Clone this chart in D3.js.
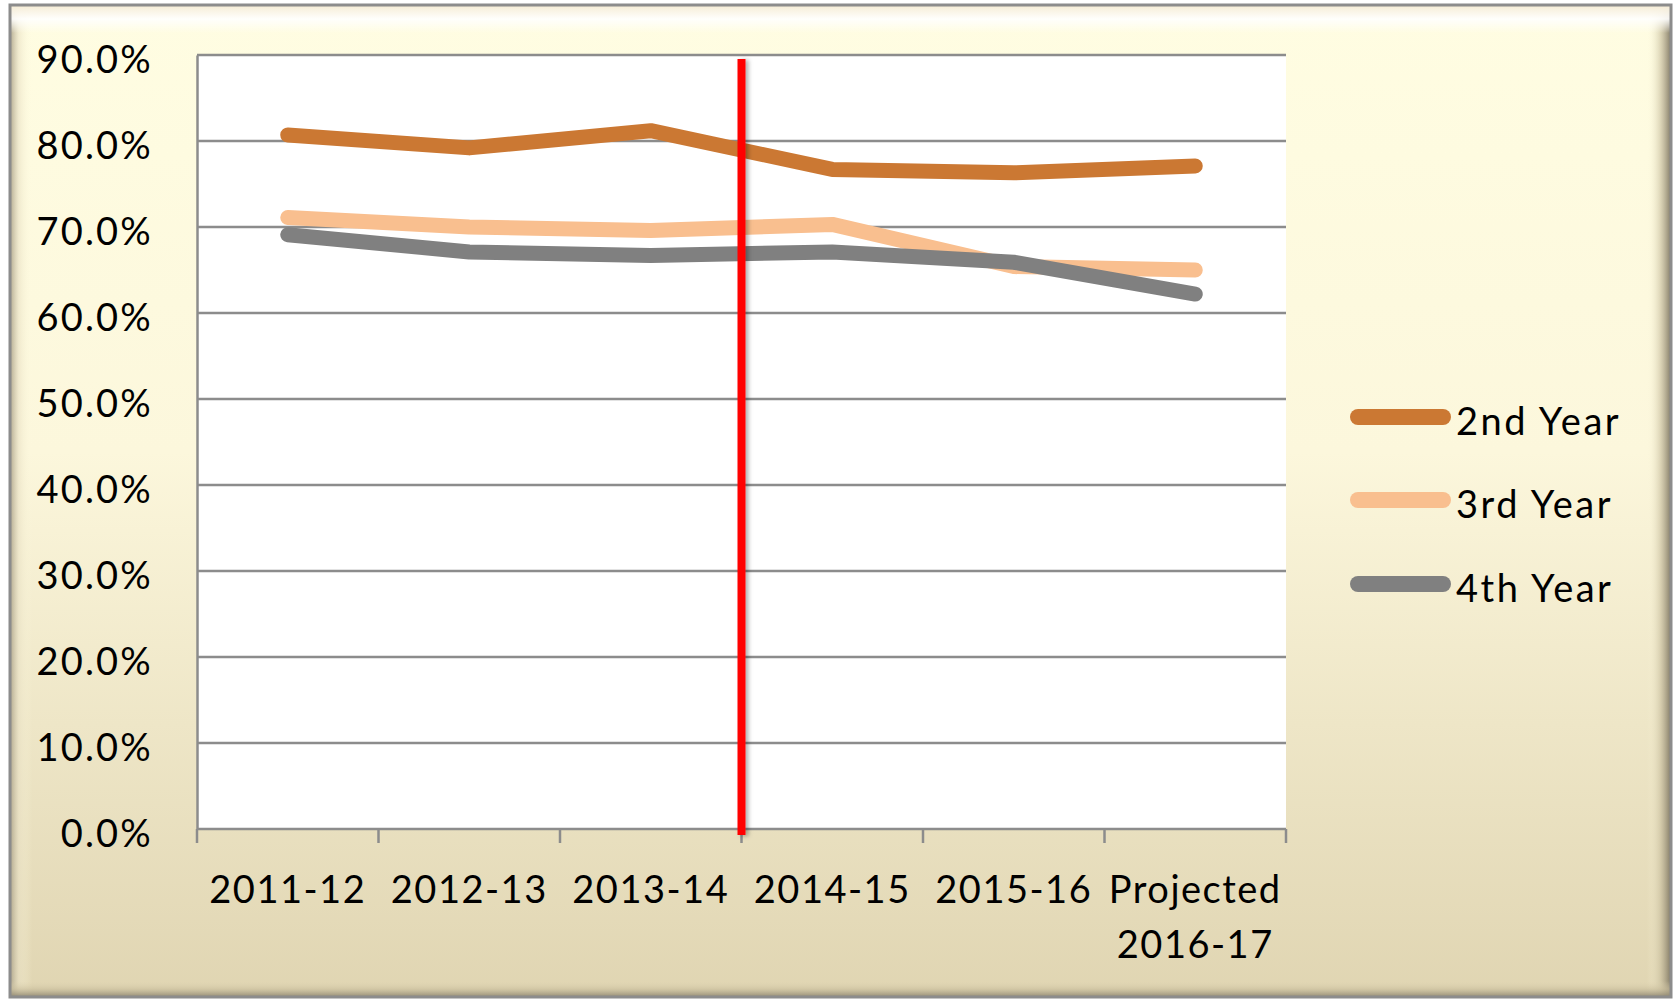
<!DOCTYPE html>
<html>
<head>
<meta charset="utf-8">
<script src="https://cdn.jsdelivr.net/npm/d3@7"></script>
<style>
  html, body { margin: 0; padding: 0; background: #ffffff; }
  svg { display: block; }
  text { font-family: Lato, "Open Sans", sans-serif; fill: #000; }
</style>
</head>
<body>
<svg id="chart" width="1680" height="1002"></svg>
<script>
// ---- data ----
const categories = ["2011-12", "2012-13", "2013-14", "2014-15", "2015-16", "Projected 2016-17"];
const categoryLines = [["2011-12"], ["2012-13"], ["2013-14"], ["2014-15"], ["2015-16"], ["Projected", "2016-17"]];
const seriesNames = ["2nd Year", "3rd Year", "4th Year"];
const secondYear = [0.807, 0.792, 0.812, 0.767, 0.763, 0.771];
const thirdYear  = [0.711, 0.700, 0.696, 0.703, 0.654, 0.650];
const fourthYear = [0.691, 0.671, 0.667, 0.671, 0.659, 0.622];
const seriesColors = ["#cb7833", "#f9bf8f", "#808080"];
const yTicks = [0, 0.1, 0.2, 0.3, 0.4, 0.5, 0.6, 0.7, 0.8, 0.9];
const dividerBefore = "2014-15";

const seriesValues = [secondYear, thirdYear, fourthYear];

const svg = d3.select("#chart");
const defs = svg.append("defs");

// background gradient
const bg = defs.append("linearGradient").attr("id", "bgGrad")
  .attr("x1", 0).attr("y1", 0).attr("x2", 0).attr("y2", 1);
bg.append("stop").attr("offset", "0%").attr("stop-color", "#fffde2");
bg.append("stop").attr("offset", "45%").attr("stop-color", "#fcf7dc");
bg.append("stop").attr("offset", "100%").attr("stop-color", "#e0d5b2");

const leftBev = defs.append("linearGradient").attr("id", "leftBev")
  .attr("x1", 0).attr("y1", 0).attr("x2", 1).attr("y2", 0);
leftBev.append("stop").attr("offset", "0%").attr("stop-color", "#a89f86").attr("stop-opacity", 0.9);
leftBev.append("stop").attr("offset", "40%").attr("stop-color", "#e8e0c4").attr("stop-opacity", 0.6);
leftBev.append("stop").attr("offset", "100%").attr("stop-color", "#fffbe0").attr("stop-opacity", 0);

const rightBev = defs.append("linearGradient").attr("id", "rightBev")
  .attr("x1", 1).attr("y1", 0).attr("x2", 0).attr("y2", 0);
rightBev.append("stop").attr("offset", "0%").attr("stop-color", "#7c7460").attr("stop-opacity", 0.95);
rightBev.append("stop").attr("offset", "45%").attr("stop-color", "#c9bf9f").attr("stop-opacity", 0.6);
rightBev.append("stop").attr("offset", "100%").attr("stop-color", "#fffbe0").attr("stop-opacity", 0);

const topBev = defs.append("linearGradient").attr("id", "topBev")
  .attr("x1", 0).attr("y1", 0).attr("x2", 0).attr("y2", 1);
topBev.append("stop").attr("offset", "0%").attr("stop-color", "#f5ebd3").attr("stop-opacity", 1);
topBev.append("stop").attr("offset", "50%").attr("stop-color", "#ffffff").attr("stop-opacity", 0.9);
topBev.append("stop").attr("offset", "100%").attr("stop-color", "#ffffff").attr("stop-opacity", 0);

const botBev = defs.append("linearGradient").attr("id", "botBev")
  .attr("x1", 0).attr("y1", 1).attr("x2", 0).attr("y2", 0);
botBev.append("stop").attr("offset", "0%").attr("stop-color", "#8a826d").attr("stop-opacity", 0.9);
botBev.append("stop").attr("offset", "50%").attr("stop-color", "#c8bd9c").attr("stop-opacity", 0.6);
botBev.append("stop").attr("offset", "100%").attr("stop-color", "#e0d5b2").attr("stop-opacity", 0);

const shadow = defs.append("filter").attr("id", "redShadow")
  .attr("filterUnits", "userSpaceOnUse")
  .attr("x", 700).attr("y", 40).attr("width", 90).attr("height", 820);
shadow.append("feDropShadow").attr("dx", 3).attr("dy", 1).attr("stdDeviation", 2)
  .attr("flood-color", "#000").attr("flood-opacity", 0.3);

// frame
const fx0 = 10, fy0 = 5, fx1 = 1671, fy1 = 997;
svg.append("rect").attr("x", fx0).attr("y", fy0).attr("width", fx1 - fx0).attr("height", fy1 - fy0)
  .attr("fill", "url(#bgGrad)");
svg.append("rect").attr("x", fx0).attr("y", fy0).attr("width", 22).attr("height", fy1 - fy0)
  .attr("fill", "url(#leftBev)");
svg.append("rect").attr("x", fx1 - 24).attr("y", fy0).attr("width", 24).attr("height", fy1 - fy0)
  .attr("fill", "url(#rightBev)");
svg.append("rect").attr("x", fx0).attr("y", fy0).attr("width", fx1 - fx0).attr("height", 28)
  .attr("fill", "url(#topBev)");
svg.append("rect").attr("x", fx0).attr("y", fy1 - 16).attr("width", fx1 - fx0).attr("height", 16)
  .attr("fill", "url(#botBev)");
svg.append("rect").attr("x", fx0).attr("y", fy0).attr("width", fx1 - fx0).attr("height", fy1 - fy0)
  .attr("fill", "none").attr("stroke", "#8c8c8c").attr("stroke-width", 3);

// plot area
const pl = 197, pr = 1286, pt = 55, pb = 829;
const x = d3.scaleBand().domain(categories).range([pl, pr]).paddingInner(0).paddingOuter(0);
const y = d3.scaleLinear().domain([0, 0.9]).range([pb, pt]);
const cx = c => x(c) + x.bandwidth() / 2;

svg.append("rect").attr("x", pl).attr("y", pt).attr("width", pr - pl).attr("height", pb - pt)
  .attr("fill", "#ffffff");

// gridlines
svg.append("g").selectAll("line").data(yTicks.filter(t => t > 0)).join("line")
  .attr("x1", pl).attr("x2", pr)
  .attr("y1", d => y(d)).attr("y2", d => y(d))
  .attr("stroke", "#8c8c8c").attr("stroke-width", 2.5);

// y axis
const yAxis = d3.axisLeft(y).tickValues(yTicks).tickSize(0).tickPadding(0)
  .tickFormat(d3.format(".1%"));
const yg = svg.append("g").attr("transform", `translate(${pl},0)`).call(yAxis);
yg.select(".domain").attr("stroke", "#8c8c8c").attr("stroke-width", 2.5);
yg.selectAll("text")
  .attr("x", -44).attr("dy", null)
  .attr("dominant-baseline", "central")
  .attr("transform", "translate(0,2)")
  .style("font-size", "38px").style("letter-spacing", "2.2px")
  .attr("fill", "#000");

// x axis
const xTickPos = categories.map(c => x(c)).concat([pr]);
const xg = svg.append("g");
xg.append("line").attr("x1", pl).attr("x2", pr).attr("y1", pb).attr("y2", pb)
  .attr("stroke", "#8c8c8c").attr("stroke-width", 2.5);
xg.selectAll("line.tick").data(xTickPos).join("line").attr("class", "tick")
  .attr("x1", d => d).attr("x2", d => d).attr("y1", pb).attr("y2", pb + 14)
  .attr("stroke", "#8c8c8c").attr("stroke-width", 2.5);
const xl = xg.selectAll("text.xl").data(categories).join("text").attr("class", "xl")
  .attr("x", d => cx(d)).attr("y", 903)
  .attr("text-anchor", "middle")
  .style("font-size", "38px").style("letter-spacing", "1.5px");
xl.each(function(d, i) {
  const t = d3.select(this);
  categoryLines[i].forEach((ln, j) => {
    t.append("tspan").attr("x", cx(d)).attr("dy", j === 0 ? 0 : 55).text(ln);
  });
});

// lines
const line = d3.line().x((d, i) => cx(categories[i])).y(d => y(d));
svg.append("g").selectAll("path").data(seriesValues).join("path")
  .attr("d", d => line(d))
  .attr("fill", "none")
  .attr("stroke", (d, i) => seriesColors[i])
  .attr("stroke-width", 15)
  .attr("stroke-linecap", "round")
  .attr("stroke-linejoin", "round");

// divider
const dx = x(dividerBefore);
svg.append("rect").attr("x", dx - 4).attr("width", 8)
  .attr("y", pt + 4).attr("height", pb + 6 - (pt + 4))
  .attr("fill", "#ff0000")
  .attr("filter", "url(#redShadow)");

// legend
const lg = svg.append("g");
const legY = [417, 500, 584];
seriesNames.forEach((name, i) => {
  lg.append("line").attr("x1", 1358).attr("x2", 1443).attr("y1", legY[i]).attr("y2", legY[i])
    .attr("stroke", seriesColors[i]).attr("stroke-width", 16).attr("stroke-linecap", "round");
  lg.append("text").attr("x", 1456).attr("y", legY[i]).attr("dominant-baseline", "central")
    .attr("transform", "translate(0,3)")
    .style("font-size", "38px").style("letter-spacing", "2.5px").text(name);
});
</script>
</body>
</html>
